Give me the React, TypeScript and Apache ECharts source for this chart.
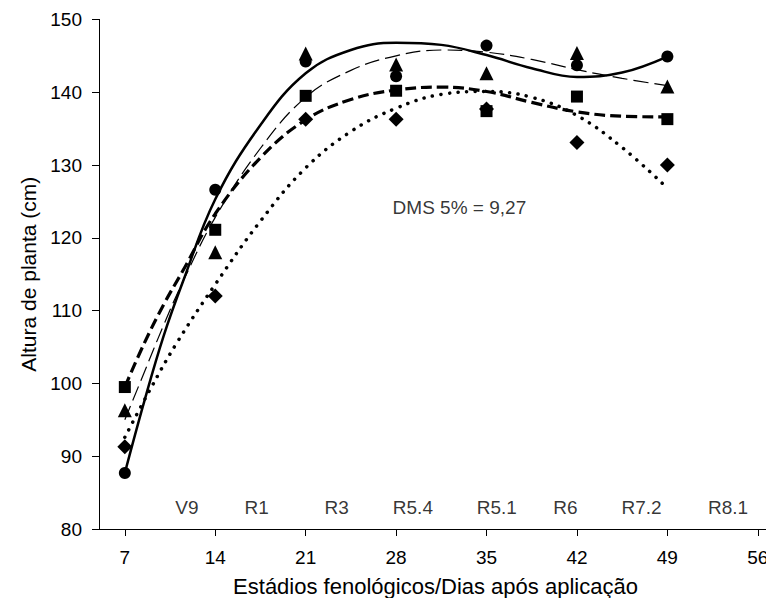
import React, { useEffect, useRef } from "react";
import * as echarts from "echarts";

// Observed means (markers)
const days = [7, 14, 21, 28, 35, 42, 49];
const circleVals = [87.7, 126.6, 144.2, 142.2, 146.4, 143.7, 144.9];
const triangleVals = [96.3, 118.0, 145.3, 143.8, 142.6, 145.4, 140.8];
const squareVals = [99.5, 121.1, 139.5, 140.2, 137.4, 139.4, 136.3];
const diamondVals = [91.3, 112.0, 136.3, 136.3, 137.7, 133.1, 130.0];

// Fitted curves as [day, height]
const solidFit: [number, number][] = [
  [7, 87.7], [8.5, 97.5], [10, 106.5], [11.5, 114], [14, 125.3], [17.5, 135.5],
  [21, 142.6], [24.5, 145.8], [28, 146.8], [31.5, 146.5], [35, 145.1],
  [38.5, 143.3], [42, 142.1], [45.5, 142.7], [49, 144.9],
];
const thinDashFit: [number, number][] = [
  [7, 95], [8.5, 101.5], [10, 108], [11.5, 114], [14, 122.8], [17.5, 132.3],
  [21, 139.3], [24.5, 143], [28, 145], [31.5, 145.8], [35, 145.5],
  [38.5, 144.5], [42, 143.1], [45.5, 141.9], [49, 140.9],
];
const thickDashFit: [number, number][] = [
  [7, 99.5], [8.5, 105.5], [10, 110.8], [11.5, 115.5], [14, 123.3], [17.5, 131],
  [21, 136.2], [24.5, 139], [28, 140.3], [31.5, 140.7], [35, 140.1],
  [38.5, 138.6], [42, 137.3], [45.5, 136.7], [49, 136.6],
];
const dottedFit: [number, number][] = [
  [7, 92.6], [9, 99.3], [11, 105.5], [14, 113.6], [17.5, 122.3], [21, 129.6],
  [24.5, 134.6], [28, 137.8], [31.5, 139.7], [35, 140.1], [38.5, 139.3],
  [42, 136.8], [45.5, 132.4], [48.6, 127.5],
];

// Axis ticks and stage labels
const xTicks = [7, 14, 21, 28, 35, 42, 49, 56];
const stageNames = ["V9", "R1", "R3", "R5.4", "R5.1", "R6", "R7.2", "R8.1"];
const stageDays = [11.8, 17.2, 23.4, 29.3, 35.8, 41.1, 47.0, 53.7];
const stageLevel = 82.9;
const dmsText = "DMS 5% = 9,27";
const dmsPos: [number, number] = [32.9, 124.1];

const FONT = "Liberation Sans, Arial, sans-serif";

export default function App() {
  const ref = useRef<HTMLDivElement>(null);
  useEffect(() => {
    if (!ref.current) return;
    const chart = echarts.init(ref.current, undefined, { renderer: "svg" });
    const pts = (vals: number[]) => days.map((d, i) => [d, vals[i]]);
    const markerSeries = (vals: number[], symbol: string, size: number) => ({
      type: "scatter",
      data: pts(vals),
      symbol,
      symbolSize: size,
      itemStyle: { color: "#000", opacity: 1 },
      z: 5,
    });
    const lineSeries = (data: [number, number][], lineStyle: any) => ({
      type: "line",
      data,
      smooth: 0.4,
      showSymbol: false,
      symbol: "none",
      lineStyle: { color: "#000", opacity: 1, ...lineStyle },
      z: 3,
    });
    chart.setOption({
      animation: false,
      backgroundColor: "#fff",
      textStyle: { fontFamily: FONT },
      grid: { left: 99, right: 2, top: 19.4, bottom: 77 },
      xAxis: {
        type: "value",
        min: 5,
        max: 57.1,
        name: "Estádios fenológicos/Dias após aplicação",
        nameLocation: "middle",
        nameGap: 46,
        nameTextStyle: { fontSize: 22, color: "#000", fontFamily: FONT },
        axisLine: { lineStyle: { color: "#000", width: 1 } },
        axisTick: { customValues: xTicks, length: 7, lineStyle: { color: "#000" } },
        axisLabel: { customValues: xTicks, fontSize: 19, color: "#000", margin: 19, fontFamily: FONT },
        splitLine: { show: false },
      },
      yAxis: {
        type: "value",
        min: 80,
        max: 150,
        interval: 10,
        name: "Altura de planta (cm)",
        nameLocation: "middle",
        nameGap: 48,
        nameTextStyle: { fontSize: 21, color: "#000", fontFamily: FONT },
        axisLine: { show: true, lineStyle: { color: "#000", width: 1 } },
        axisTick: { show: true, length: 7, lineStyle: { color: "#000" } },
        axisLabel: { fontSize: 19, color: "#000", margin: 17, fontFamily: FONT },
        splitLine: { show: false },
      },
      series: [
        lineSeries(solidFit, { width: 2.5, type: "solid" }),
        lineSeries(thinDashFit, { width: 1.2, type: [15, 6] }),
        lineSeries(thickDashFit, { width: 3.2, type: [11, 5] }),
        lineSeries(dottedFit, { width: 3.5, type: [0.1, 8.5], cap: "round" }),
        markerSeries(circleVals, "circle", 12),
        markerSeries(triangleVals, "triangle", 14),
        markerSeries(squareVals, "rect", 12),
        markerSeries(diamondVals, "diamond", 15),
        {
          type: "scatter",
          symbolSize: 0,
          silent: true,
          data: stageDays.map((d, i) => ({ value: [d, stageLevel], name: stageNames[i] })),
          label: {
            show: true,
            position: "inside",
            formatter: (p: any) => p.name,
            fontSize: 19,
            color: "#000",
            fontFamily: FONT,
          },
        },
        {
          type: "scatter",
          symbolSize: 0,
          silent: true,
          data: [{ value: dmsPos, name: dmsText }],
          label: {
            show: true,
            position: "inside",
            formatter: (p: any) => p.name,
            fontSize: 19,
            color: "#000",
            fontFamily: FONT,
          },
        },
      ],
    });
    return () => chart.dispose();
  }, []);
  return <div ref={ref} style={{ width: 774, height: 606, margin: -8 }} />;
}
